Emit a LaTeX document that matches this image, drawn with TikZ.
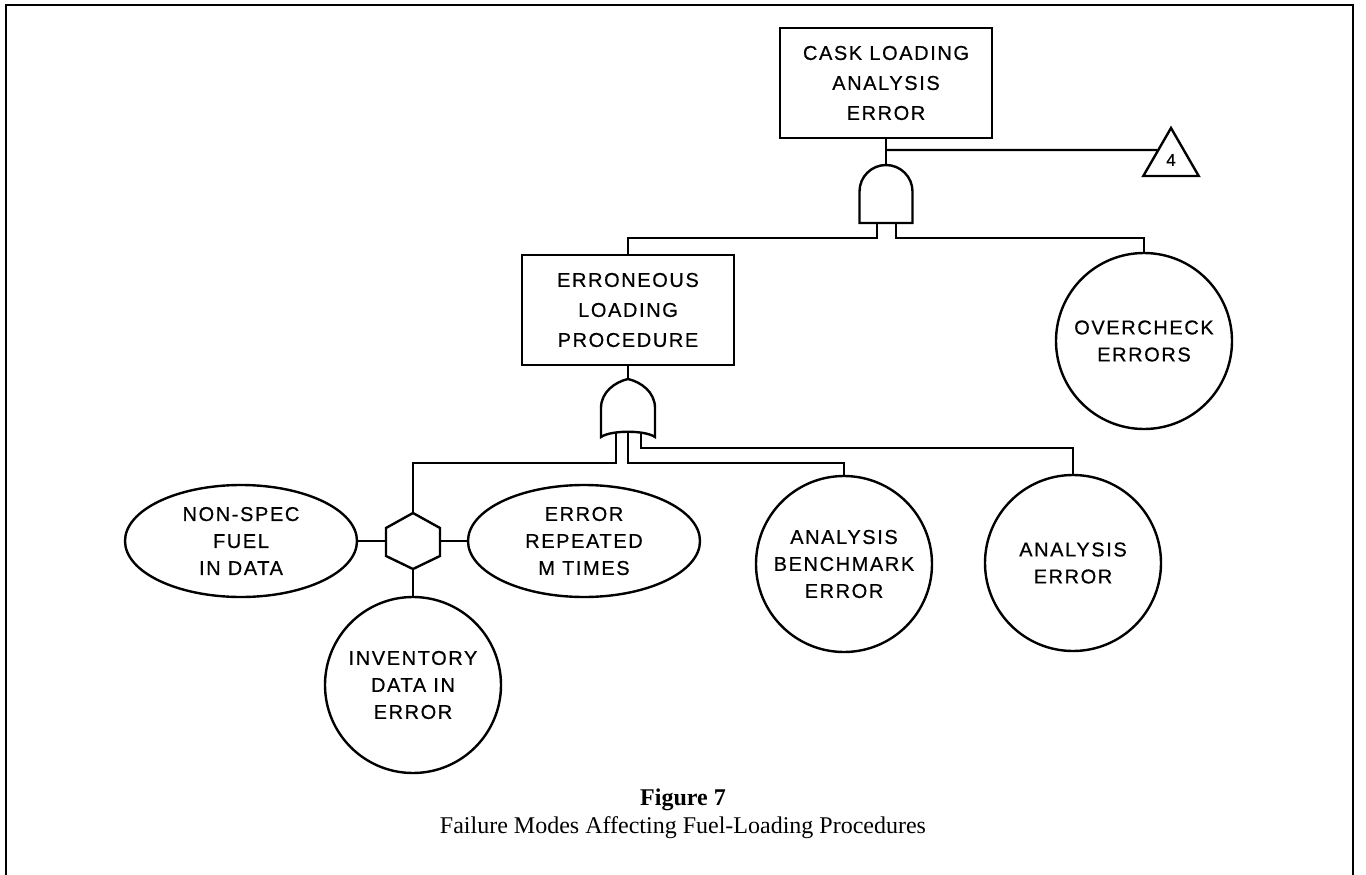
\documentclass[tikz,border=0pt]{standalone}
\usepackage{fontspec}
\setmainfont{Liberation Serif}
\newfontfamily\evfont[LetterSpace=8,FakeBold=0.6]{Liberation Sans}
\usetikzlibrary{shapes.geometric}
\begin{document}
\begin{tikzpicture}[x=1pt,y=1pt,
  ln/.style={line width=2.4pt},
  evt/.style={draw, line width=2.4pt, align=center, inner sep=0pt},
  boxnode/.style={evt, rectangle, font=\evfont\fontsize{20}{30}\selectfont},
  circnode/.style={evt, circle, minimum size=176pt, font=\evfont\fontsize{20}{27}\selectfont},
  ellnode/.style={evt, ellipse, minimum width=232pt, minimum height=112pt, font=\evfont\fontsize{20}{27}\selectfont},
  gatebox/.style={draw=none, inner sep=0pt, outer sep=0pt, rectangle}
]
\useasboundingbox (0,0) rectangle (1366,-875);
% frame
\draw[line width=2pt] (6,-875) -- (6,-5) -- (1353,-5) -- (1353,-875);

% top event
\node[boxnode, minimum width=212pt, minimum height=110pt] (top) at (886,-83) {CASK LOADING\\ANALYSIS\\ERROR};
% AND gate
\node[gatebox, minimum width=53pt, minimum height=58pt] (g1) at (886,-194) {};
\draw[ln] (g1.south west) -- ++(0,31.5) arc[start angle=180, end angle=0, radius=26.5] -- (g1.south east) -- cycle;
\draw[ln] (top.south) -- (g1.north);
% transfer triangle
\node[draw, line width=2.4pt, regular polygon, regular polygon sides=3, minimum size=64pt, inner sep=0pt, font=\evfont\fontsize{17}{19}\selectfont] (tri) at (1171,-160) {4};
\coordinate (j1) at (886,-150);
\coordinate (j1r) at (1300,-150);
\draw[ln] (j1) -- (intersection cs: first line={(tri.corner 1)--(tri.corner 2)}, second line={(j1)--(j1r)});

% second level
\node[boxnode, minimum width=212pt, minimum height=110pt] (erl) at (628,-310) {ERRONEOUS\\LOADING\\PROCEDURE};
\node[circnode] (over) at (1144,-341) {OVERCHECK\\ERRORS};
\coordinate (g1l) at (877,-223);
\coordinate (g1r) at (896,-223);
\draw[ln] (g1l) -- ++(0,-15) -| (erl.north);
\draw[ln] (g1r) -- ++(0,-15) -| (over.north);

% OR gate
\node[gatebox, minimum width=54pt, minimum height=58pt] (g2) at (628,-408) {};
\draw[ln, shift={(g2.center)}] (-27,-29) -- (-27,0) .. controls (-27,16) and (-13,26) .. (0,29) .. controls (13,26) and (27,16) .. (27,0) -- (27,-29) .. controls (17,-22) and (-17,-22) .. (-27,-29) -- cycle;
\draw[ln] (erl.south) -- (g2.north);

% third level
\node[gatebox, minimum width=54pt, minimum height=56pt] (hx) at (413,-541) {};
\draw[ln, shift={(hx.center)}] (0,28) -- (27,13) -- (27,-15) -- (0,-28) -- (-27,-15) -- (-27,13) -- cycle;
\node[ellnode] (ns) at (241,-541) {NON-SPEC\\FUEL\\IN DATA};
\node[ellnode] (er) at (584,-541) {ERROR\\REPEATED\\M TIMES};
\node[circnode] (inv) at (413,-685) {INVENTORY\\DATA IN\\ERROR};
\node[circnode] (bench) at (844,-564) {ANALYSIS\\BENCHMARK\\ERROR};
\node[circnode] (anerr) at (1073,-563) {ANALYSIS\\ERROR};

\coordinate (o1) at (616,-433);
\coordinate (o2) at (628,-432);
\coordinate (o3) at (641,-433);
\draw[ln] (o1) -- ++(0,-30) -| (hx.north);
\draw[ln] (o2) -- ++(0,-31) -| (bench.north);
\draw[ln] (o3) -- ++(0,-15) -| (anerr.north);

\draw[ln] (hx.west) -- (ns.east);
\draw[ln] (hx.east) -- (er.west);
\draw[ln] (hx.south) -- (inv.north);

% caption
\node[font=\fontsize{24}{28}\selectfont\bfseries] (fig) at (683,-800) {Figure 7};
\node[font=\fontsize{24}{28}\selectfont] (cap) at (683,-828) {Failure Modes Affecting Fuel-Loading Procedures};
\end{tikzpicture}
\end{document}
